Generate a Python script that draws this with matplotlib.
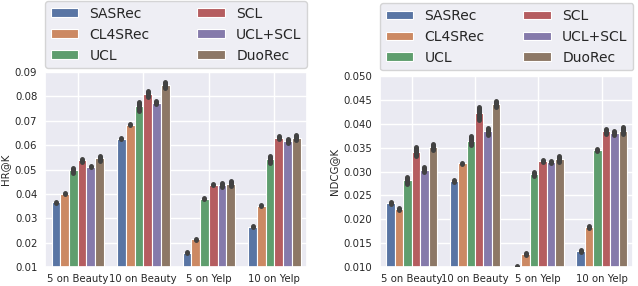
import numpy as np
import matplotlib
matplotlib.use('Agg')
import matplotlib.pyplot as plt
import seaborn as sns

sns.set_theme(style='darkgrid', palette='deep')
plt.rcParams['font.family'] = ['DejaVu Sans']

groups = ['5 on Beauty', '10 on Beauty', '5 on Yelp', '10 on Yelp']
methods = ['SASRec', 'CL4SRec', 'UCL', 'SCL', 'UCL+SCL', 'DuoRec']

# HR@K means and half-width of error bars, one row per method
hr_mean = {
    'SASRec':  [0.0367, 0.0627, 0.0158, 0.0265],
    'CL4SRec': [0.0400, 0.0684, 0.0215, 0.0352],
    'UCL':     [0.0497, 0.0760, 0.0381, 0.0542],
    'SCL':     [0.0538, 0.0810, 0.0438, 0.0630],
    'UCL+SCL': [0.0511, 0.0774, 0.0436, 0.0617],
    'DuoRec':  [0.0547, 0.0848, 0.0442, 0.0631],
}
hr_err = {
    'SASRec':  [0.0002, 0.0002, 0.0002, 0.0002],
    'CL4SRec': [0.0002, 0.0002, 0.0002, 0.0002],
    'UCL':     [0.0010, 0.0018, 0.0003, 0.0013],
    'SCL':     [0.0006, 0.0012, 0.0002, 0.0006],
    'UCL+SCL': [0.0002, 0.0007, 0.0007, 0.0009],
    'DuoRec':  [0.0010, 0.0012, 0.0010, 0.0011],
}
ndcg_mean = {
    'SASRec':  [0.0235, 0.0280, 0.0101, 0.0133],
    'CL4SRec': [0.0222, 0.0317, 0.0128, 0.0184],
    'UCL':     [0.0282, 0.0365, 0.0295, 0.0345],
    'SCL':     [0.0342, 0.0422, 0.0322, 0.0384],
    'UCL+SCL': [0.0304, 0.0384, 0.0321, 0.0381],
    'DuoRec':  [0.0352, 0.0442, 0.0326, 0.0386],
}
ndcg_err = {
    'SASRec':  [0.0002, 0.0002, 0.0002, 0.0002],
    'CL4SRec': [0.0002, 0.0002, 0.0002, 0.0002],
    'UCL':     [0.0007, 0.0009, 0.0005, 0.0002],
    'SCL':     [0.0009, 0.0013, 0.0002, 0.0005],
    'UCL+SCL': [0.0005, 0.0008, 0.0002, 0.0004],
    'DuoRec':  [0.0006, 0.0006, 0.0006, 0.0007],
}

# seaborn barplot desaturates its palette to 0.75
colors = [sns.desaturate(c, 0.75) for c in sns.color_palette('deep', 6)]
fig = plt.figure(figsize=(6.38, 2.86), dpi=100)
ax1 = fig.add_axes([0.0705, 0.066, 0.411, 0.682])
ax2 = fig.add_axes([0.5956, 0.066, 0.397, 0.668])


def draw(ax, mean, err, ylim, yticks, fmt, ylabel, legend_pad):
    x = np.arange(len(groups))
    w = 0.8 / len(methods)
    for i, m in enumerate(methods):
        pos = x - 0.4 + w * (i + 0.5)
        ax.bar(pos, mean[m], width=w, color=colors[i], label=m,
               edgecolor='white', linewidth=0.8, zorder=2)
        for p, mu, e in zip(pos, mean[m], err[m]):
            ax.plot([p, p], [mu - e, mu + e], color='.26', lw=3.6,
                    solid_capstyle='round', zorder=3)
    ax.set_xlim(-0.5, 3.5)
    ax.set_ylim(*ylim)
    ax.set_yticks(yticks)
    ax.set_yticklabels([fmt % t for t in yticks])
    ax.set_xticks(x)
    ax.set_xticklabels(groups)
    ax.tick_params(axis='y', labelsize=7.3, length=0, pad=5.5)
    ax.tick_params(axis='x', labelsize=7.3, length=0, pad=5)
    ax.set_ylabel(ylabel, fontsize=7.3, labelpad=3.5)
    ax.legend(ncol=2, loc='lower left', bbox_to_anchor=(0, 1 + legend_pad, 1, 0.2),
              mode='expand', fontsize=10, handlelength=2.0, handleheight=0.6,
              labelspacing=0.5, borderaxespad=0)


draw(ax1, hr_mean, hr_err, (0.01, 0.09), np.arange(0.01, 0.0901, 0.01),
     '%.2f', 'HR@K', 0.02)
draw(ax2, ndcg_mean, ndcg_err, (0.010, 0.050), np.arange(0.010, 0.0501, 0.005),
     '%.3f', 'NDCG@K', 0.03)

plt.savefig('out.png', dpi=100)
